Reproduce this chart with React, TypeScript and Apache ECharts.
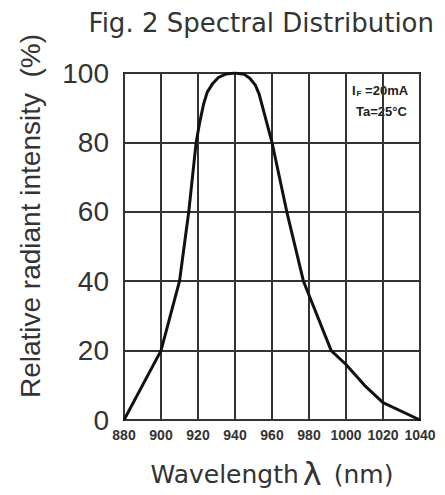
import React, { useEffect, useRef } from "react";
import * as echarts from "echarts";

const wavelengths = [880, 900, 910, 915, 919, 921, 923, 925, 928, 931, 935, 940, 945, 948, 951, 953, 955, 957, 960, 968, 977, 992, 1000, 1010, 1020, 1040];
const intensity = [0, 20, 40, 60, 80, 86, 91, 94.5, 97, 98.7, 99.7, 100, 99.6, 98.5, 96.5, 94, 90, 86, 80, 60, 40, 20, 16, 10, 5, 0];
const title = "Fig. 2 Spectral Distribution";
const xName = "Wavelength";
const yName = "Relative radiant intensity  (%)";
const condLine1 = "=20mA";
const condLine2 = "Ta=25°C";

export default function App() {
  const ref = useRef<HTMLDivElement>(null);
  useEffect(() => {
    if (!ref.current) return;
    const chart = echarts.init(ref.current, undefined, { renderer: "svg" });
    const data = wavelengths.map((w, i) => [w, intensity[i]]);
    chart.setOption({
      animation: false,
      backgroundColor: "#fff",
      title: {
        text: title,
        right: 6,
        top: 5,
        textStyle: { fontFamily: "DejaVu Sans", fontSize: 26, fontWeight: "normal", color: "#333" },
      },
      grid: {
        left: 124, right: 25, top: 73, bottom: 75,
        outerBoundsMode: "none",
        containLabel: false,
        show: true, borderColor: "#111", borderWidth: 2, backgroundColor: "transparent",
      },
      xAxis: {
        type: "value",
        min: 880,
        max: 1040,
        interval: 20,
        name: `{a|${xName}}{l|λ}{a| (nm)}`,
        nameLocation: "middle",
        nameGap: 38,
        nameTextStyle: {
          rich: {
            a: { fontFamily: "DejaVu Sans", fontSize: 25, color: "#333" },
            l: { fontFamily: "DejaVu Sans", fontSize: 32, color: "#333", padding: [0, 4, 0, 4] },
          },
        },
        axisLine: { show: false },
        axisTick: { show: false },
        axisLabel: {
          margin: 8,
          hideOverlap: false,
          showMinLabel: true,
          showMaxLabel: true,
          formatter: (v: number) => String(v),
          fontFamily: "Liberation Sans",
          fontSize: 14,
          fontWeight: "bold",
          color: "#333",
        },
        splitLine: { show: true, lineStyle: { color: "#333", width: 2 } },
      },
      yAxis: {
        type: "value",
        min: 0,
        max: 100,
        interval: 20,
        axisLine: { show: false },
        axisTick: { show: false },
        axisLabel: { margin: 15, fontFamily: "Liberation Sans", fontSize: 28, color: "#333", padding: [0, 0, 6, 0] },
        splitLine: { show: true, lineStyle: { color: "#333", width: 2 } },
      },
      graphic: [
        {
          type: "text",
          x: 30,
          y: 216,
          rotation: Math.PI / 2,
          style: {
            text: yName,
            fontFamily: "Liberation Sans",
            fontSize: 28,
            fill: "#333",
            align: "center",
            verticalAlign: "middle",
          },
        },
        {
          type: "text",
          left: 352,
          top: 84,
          style: {
            text: `{i|I}{s|F}{t| ${condLine1}}`,
            rich: {
              i: { fontFamily: "Liberation Sans", fontSize: 13, fontWeight: "bold", fill: "#222" },
              s: { fontFamily: "Liberation Sans", fontSize: 8, fontWeight: "bold", fill: "#222", padding: [6, 0, 0, 1] },
              t: { fontFamily: "Liberation Sans", fontSize: 13, fontWeight: "bold", fill: "#222" },
            },
          },
        },
        {
          type: "text",
          left: 356,
          top: 105,
          style: { text: condLine2, fontFamily: "Liberation Sans", fontSize: 13, fontWeight: "bold", fill: "#222" },
        },
      ],
      series: [
        {
          type: "line",
          data,
          symbol: "none",
          smooth: false,
          lineStyle: { color: "#111", width: 3, join: "round" },
        },
      ],
    });
    return () => chart.dispose();
  }, []);
  return <div ref={ref} style={{ position: "fixed", left: 0, top: 0, width: 445, height: 495 }} />;
}
